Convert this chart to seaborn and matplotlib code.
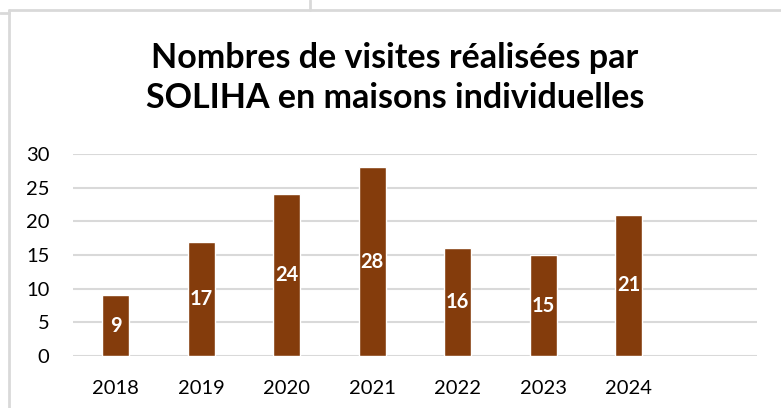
import matplotlib.pyplot as plt
import seaborn as sns
import pandas as pd
from matplotlib.lines import Line2D

# data
years = ['2018', '2019', '2020', '2021', '2022', '2023', '2024']
visites = [9, 17, 24, 28, 16, 15, 21]
yticks = [0, 5, 10, 15, 20, 25, 30]
title = 'Nombres de visites réalisées par\nSOLIHA en maisons individuelles'

df = pd.DataFrame({'annee': years, 'visites': visites})

sns.set_style('white')
plt.rcParams['font.family'] = ['Lato', 'DejaVu Sans']

W, H = 781, 408
fig = plt.figure(figsize=(W / 100, H / 100), dpi=100)

# spreadsheet cell lines around the chart frame
grey = '#d9d9d9'
def px_line(x0, y0, x1, y1, lw=2):
    fig.add_artist(Line2D([x0 / W, x1 / W], [1 - y0 / H, 1 - y1 / H],
                          transform=fig.transFigure, color=grey, lw=lw))
px_line(0, 13, 9, 13)
px_line(310, 0, 310, 10)
px_line(9, 10, W, 10)
px_line(9, 10, 9, H)

ax = fig.add_axes([73 / W, 1 - 356 / H, (757 - 73) / W, (356 - 154) / H])
sns.barplot(data=df, x='annee', y='visites', color='#843c0c', saturation=1,
            width=0.32, ax=ax, zorder=3)

for i, v in enumerate(visites):
    ax.text(i, v / 2, str(v), ha='center', va='center', color='white',
            fontsize=14.5, fontweight='bold', zorder=4)

ax.set_xlim(-0.5, 7.5)
ax.set_ylim(0, 30)
ax.set_yticks(yticks)
ax.yaxis.grid(True, color=grey, lw=1.5, zorder=0)
ax.set_axisbelow(True)
for s in ['top', 'right', 'left', 'bottom']:
    ax.spines[s].set_visible(False)
ax.tick_params(axis='both', length=0, labelsize=14.5, colors='#000000')
ax.tick_params(axis='x', pad=17)
ax.tick_params(axis='y', pad=17)
ax.set_xlabel('')
ax.set_ylabel('')

fig.text(395 / W, 1 - 78 / H, title, ha='center', va='center', color='black',
         fontsize=24.5, fontweight='bold', linespacing=1.3)

plt.savefig('out.png', dpi=100)
